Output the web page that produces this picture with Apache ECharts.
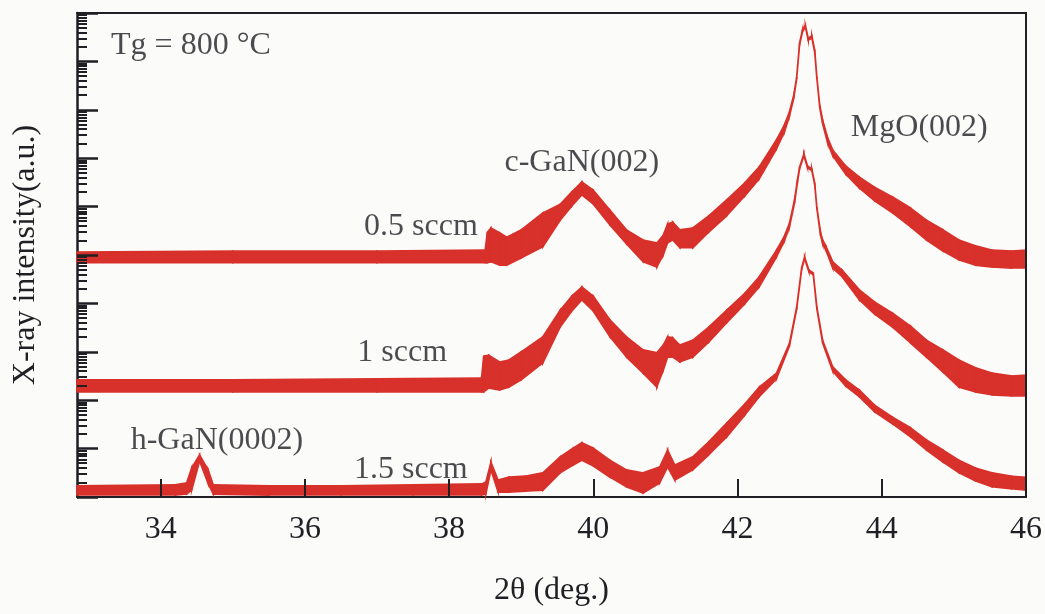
<!DOCTYPE html>
<html>
<head>
<meta charset="utf-8">
<script src="https://cdn.jsdelivr.net/npm/echarts@6/dist/echarts.min.js"></script>
<style>
  html, body { margin: 0; background: #fbfbf9; }
  #chart { width: 1045px; height: 614px; }
</style>
</head>
<body>
<div id="chart"></div>
<script>
// scan values: 2θ (deg.) and the upper / lower edge
// of the noisy trace, as log10 of the intensity (a.u.)

// 0.5 sccm
const angleA = [32.84, 35.0, 37.0, 38.5, 38.53, 38.58, 38.7, 38.8, 39.0, 39.3, 39.54, 39.7, 39.84, 40.0, 40.23, 40.46, 40.69, 40.88, 40.97, 41.03, 41.1, 41.2, 41.38, 41.6, 41.85, 42.1, 42.3, 42.54, 42.65, 42.72, 42.78, 42.82, 42.86, 42.9, 42.94, 42.98, 43.03, 43.07, 43.1, 43.14, 43.18, 43.25, 43.32, 43.5, 43.69, 43.9, 44.15, 44.4, 44.62, 44.85, 45.07, 45.3, 45.53, 45.8, 46.0]
const upperA = [5.06, 5.08, 5.08, 5.10, 5.47, 5.56, 5.46, 5.37, 5.52, 5.87, 6.05, 6.30, 6.51, 6.34, 5.93, 5.52, 5.31, 5.25, 5.41, 5.64, 5.68, 5.52, 5.56, 5.81, 6.14, 6.49, 6.82, 7.38, 7.69, 7.96, 8.31, 8.68, 9.38, 9.65, 9.75, 9.48, 9.53, 9.24, 8.68, 8.10, 7.79, 7.42, 7.17, 6.84, 6.61, 6.40, 6.20, 5.97, 5.72, 5.52, 5.31, 5.19, 5.10, 5.08, 5.10]
const lowerA = [4.84, 4.84, 4.84, 4.84, 4.84, 4.86, 4.79, 4.79, 4.94, 5.17, 5.72, 6.01, 6.24, 6.05, 5.62, 5.23, 4.86, 4.75, 5.00, 5.25, 5.31, 5.15, 5.15, 5.47, 5.81, 6.22, 6.57, 7.19, 7.54, 7.87, 8.24, 8.64, 9.34, 9.61, 9.71, 9.44, 9.48, 9.19, 8.64, 8.04, 7.71, 7.31, 7.05, 6.67, 6.38, 6.12, 5.87, 5.58, 5.31, 5.08, 4.90, 4.79, 4.75, 4.73, 4.73]

// 1 sccm
const angleB = [32.84, 35.0, 37.0, 38.45, 38.48, 38.55, 38.7, 38.83, 39.0, 39.3, 39.54, 39.7, 39.84, 40.0, 40.23, 40.46, 40.69, 40.88, 40.97, 41.03, 41.1, 41.2, 41.38, 41.6, 41.85, 42.1, 42.3, 42.54, 42.65, 42.72, 42.79, 42.83, 42.86, 42.92, 42.97, 43.03, 43.07, 43.1, 43.15, 43.18, 43.23, 43.32, 43.45, 43.69, 43.9, 44.15, 44.4, 44.62, 44.85, 45.07, 45.3, 45.53, 45.8, 46.0]
const upperB = [2.42, 2.42, 2.44, 2.46, 2.91, 2.93, 2.79, 2.83, 3.00, 3.31, 3.86, 4.15, 4.34, 4.15, 3.66, 3.31, 3.04, 2.98, 3.14, 3.31, 3.29, 3.14, 3.24, 3.51, 3.86, 4.21, 4.55, 5.10, 5.39, 5.66, 6.14, 6.55, 6.82, 7.09, 6.84, 6.78, 6.49, 5.99, 5.48, 5.31, 5.17, 4.86, 4.69, 4.28, 4.03, 3.80, 3.53, 3.24, 3.04, 2.83, 2.67, 2.56, 2.50, 2.52]
const lowerB = [2.17, 2.17, 2.17, 2.17, 2.17, 2.25, 2.21, 2.27, 2.42, 2.77, 3.51, 3.84, 4.07, 3.84, 3.31, 2.89, 2.56, 2.27, 2.62, 2.89, 2.89, 2.79, 2.89, 3.20, 3.60, 3.99, 4.34, 4.96, 5.29, 5.58, 6.07, 6.49, 6.78, 7.05, 6.80, 6.74, 6.45, 5.95, 5.41, 5.23, 5.08, 4.73, 4.55, 4.07, 3.78, 3.51, 3.18, 2.89, 2.58, 2.27, 2.17, 2.11, 2.09, 2.09]

// 1.5 sccm
const angleC = [32.84, 34.2, 34.36, 34.43, 34.54, 34.66, 34.73, 35.5, 36.5, 37.5, 38.45, 38.51, 38.58, 38.68, 38.83, 39.05, 39.3, 39.54, 39.72, 39.84, 40.0, 40.23, 40.46, 40.69, 40.92, 41.03, 41.13, 41.38, 41.6, 41.85, 42.1, 42.3, 42.54, 42.72, 42.82, 42.89, 42.93, 42.99, 43.05, 43.1, 43.18, 43.32, 43.5, 43.69, 43.9, 44.15, 44.4, 44.62, 44.85, 45.07, 45.3, 45.53, 45.8, 46.0]
const upperC = [0.23, 0.25, 0.29, 0.60, 0.87, 0.56, 0.25, 0.23, 0.23, 0.25, 0.27, 0.31, 0.72, 0.35, 0.41, 0.43, 0.50, 0.83, 1.01, 1.12, 1.01, 0.76, 0.56, 0.50, 0.62, 0.97, 0.66, 0.83, 1.14, 1.53, 1.92, 2.27, 2.56, 3.18, 3.93, 4.75, 4.96, 4.69, 4.63, 3.93, 3.24, 2.69, 2.42, 2.21, 1.90, 1.65, 1.43, 1.18, 0.97, 0.76, 0.60, 0.50, 0.43, 0.41]
const lowerC = [0.04, 0.04, 0.06, 0.14, 0.74, 0.27, 0.06, 0.04, 0.04, 0.04, 0.04, 0.06, 0.56, 0.10, 0.10, 0.12, 0.14, 0.50, 0.66, 0.76, 0.64, 0.41, 0.21, 0.08, 0.29, 0.62, 0.35, 0.56, 0.87, 1.24, 1.69, 2.07, 2.44, 3.12, 3.88, 4.71, 4.92, 4.65, 4.59, 3.88, 3.18, 2.60, 2.29, 2.07, 1.76, 1.51, 1.24, 0.97, 0.72, 0.50, 0.33, 0.21, 0.17, 0.14]

// axis ticks
const angleTicks = [34, 36, 38, 40, 42, 44, 46]
const decadeTicks = [0, 1, 2, 3, 4, 5, 6, 7, 8, 9, 10]

// text written inside the plot, placed at (2θ, log10 intensity)
const noteText = ['Tg = 800 °C', 'c-GaN(002)', 'MgO(002)', '0.5 sccm', '1 sccm', 'h-GaN(0002)', '1.5 sccm']
const noteAt = [[34.42, 9.32], [39.84, 6.9], [44.52, 7.64], [37.61, 5.58], [37.35, 2.98], [34.78, 1.16], [37.47, 0.56]]

const RED = '#d8302a'
const INK = '#1f1f24'
const FONT = 'Liberation Serif'
const FS = 32

// minor ticks of a log scale: 2..9 inside every decade
const minorTicks = []
decadeTicks.slice(0, -1).forEach(d => {
  for (let k = 2; k <= 9; k++) minorTicks.push(d + Math.log10(k))
})

// the noisy scan is drawn as a filled band between its upper and lower edge
function bandSeries(name, angle, upper, lower) {
  const segs = []
  for (let i = 0; i < angle.length - 1; i++) {
    segs.push([angle[i], upper[i], lower[i], angle[i + 1], upper[i + 1], lower[i + 1]])
  }
  return {
    name: name,
    type: 'custom',
    data: segs,
    encode: { x: [0, 3], y: [1, 2, 4, 5] },
    silent: true,
    renderItem(params, api) {
      const pts = [
        api.coord([api.value(0), api.value(1)]),
        api.coord([api.value(3), api.value(4)]),
        api.coord([api.value(3), api.value(5)]),
        api.coord([api.value(0), api.value(2)])
      ]
      return {
        type: 'polygon',
        shape: { points: pts },
        style: { fill: RED, stroke: RED, lineWidth: 1.6 }
      }
    }
  }
}

// bare axis: either a frame line or a set of inside ticks
function bareAxis(position, min, max, opts) {
  return {
    type: 'value',
    min: min,
    max: max,
    position: position,
    z: 5,
    axisLine: { show: !!opts.line, onZero: false, lineStyle: { color: INK, width: 2 } },
    axisTick: opts.ticks
      ? { show: true, inside: true, length: opts.len, customValues: opts.ticks, lineStyle: { color: INK, width: opts.width } }
      : { show: false },
    axisLabel: { show: false },
    splitLine: { show: false }
  }
}

const chart = echarts.init(document.getElementById('chart'))
chart.setOption({
  animation: false,
  backgroundColor: '#fbfbf9',
  textStyle: { fontFamily: FONT },
  grid: { left: 77, right: 17, top: 13, bottom: 117 },
  xAxis: [
    {
      type: 'value',
      min: 32.84,
      max: 46,
      name: '2θ (deg.)',
      nameLocation: 'middle',
      nameGap: 78,
      nameTextStyle: { fontSize: FS, color: INK, fontFamily: FONT },
      axisLine: { show: true, onZero: false, lineStyle: { color: INK, width: 2 } },
      axisTick: { show: false },
      axisLabel: { customValues: angleTicks, fontSize: FS, color: INK, fontFamily: FONT, margin: 17 },
      splitLine: { show: false }
    },
    bareAxis('bottom', 32.84, 46, { ticks: angleTicks, len: 18, width: 2 }),
    bareAxis('top', 32.84, 46, { line: true })
  ],
  yAxis: [
    {
      type: 'value',
      min: 0,
      max: 10,
      name: 'X-ray intensity(a.u.)',
      nameLocation: 'middle',
      nameGap: 35,
      nameTextStyle: { fontSize: FS, color: INK, fontFamily: FONT },
      axisLine: { show: true, onZero: false, lineStyle: { color: INK, width: 2.5 } },
      axisTick: { show: false },
      axisLabel: { show: false },
      splitLine: { show: false }
    },
    bareAxis('left', 0, 10, { ticks: decadeTicks, len: 21, width: 2.5 }),
    bareAxis('left', 0, 10, { ticks: minorTicks, len: 10, width: 2 }),
    bareAxis('right', 0, 10, { line: true })
  ],
  series: [
    bandSeries('0.5 sccm', angleA, upperA, lowerA),
    bandSeries('1 sccm', angleB, upperB, lowerB),
    bandSeries('1.5 sccm', angleC, upperC, lowerC),
    {
      name: 'notes',
      type: 'scatter',
      symbolSize: 0,
      silent: true,
      data: noteAt.map((p, i) => ({ value: p, label: { formatter: noteText[i] } })),
      label: {
        show: true,
        position: 'inside',
        fontSize: FS,
        color: INK,
        fontFamily: FONT
      }
    }
  ]
})
</script>
</body>
</html>
